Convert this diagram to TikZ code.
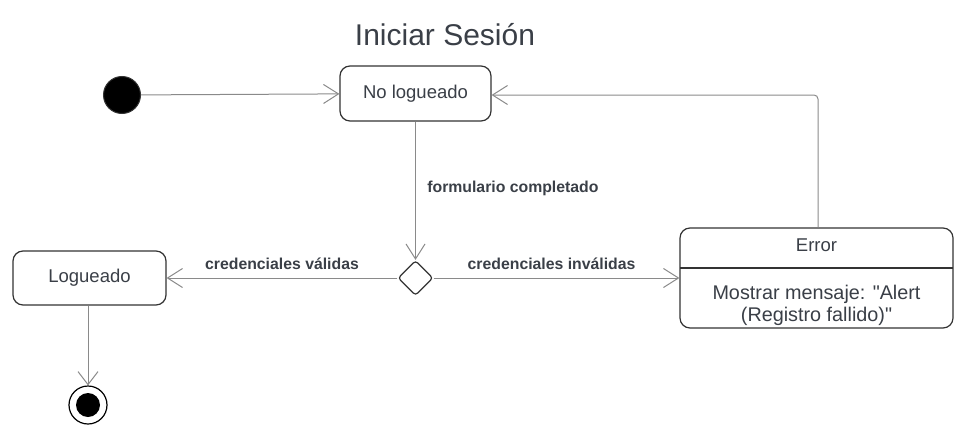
\documentclass[tikz,border=0pt]{standalone}
\usepackage{fontspec}
\setmainfont{Liberation Sans}[Ligatures=TeXOff]
\usetikzlibrary{arrows.meta,shapes.geometric}
\definecolor{txt}{HTML}{3A3F47}
\definecolor{edge}{HTML}{333333}
\definecolor{conn}{HTML}{8A8A8A}
\tikzset{
  state/.style={draw=edge, line width=1.2pt, rounded corners=10pt, fill=white, text=txt, font=\fontsize{18.5}{22}\selectfont, inner sep=0pt},
  conn/.style={draw=conn, line width=1pt, -{Straight Barb[length=15pt,width=19pt,line width=1pt]}},
  lbl/.style={text=txt, font=\bfseries\fontsize{15.8}{18}\selectfont},
}
\begin{document}
\begin{tikzpicture}[x=1pt,y=-1pt]
\useasboundingbox (0,0) rectangle (968,444);
\node[text=txt, font=\fontsize{30}{34}\selectfont] (title) at (445,35) {Iniciar Sesión};
\node[circle, fill=black, draw=edge, line width=1pt, minimum size=37pt, inner sep=0pt] (init) at (122,95) {};
\node[state, minimum width=151pt, minimum height=55pt] (nolog) at (415.5,93.5) {No logueado};
\node[draw=edge, line width=1.2pt, fill=white, diamond, aspect=1, minimum width=35pt, minimum height=35pt, inner sep=0pt, rounded corners=3pt] (dec) at (415.5,278) {};
\node[state, minimum width=153pt, minimum height=54pt] (log) at (89.5,278) {Logueado};
\node[state, minimum width=273pt, minimum height=100pt] (err) at (816.5,278) {};
\coordinate (divL) at (680,268);
\coordinate (divR) at (953,268);
\draw[draw=edge, line width=1.2pt] (divL) -- (divR);
\node[text=txt, font=\fontsize{18.5}{22}\selectfont] (errt) at (816.5,245) {Error};
\node[text=txt, font=\fontsize{19.8}{21.5}\selectfont, align=center] (errb) at (816.5,305.5) {Mostrar mensaje: "Alert\\(Registro fallido)"};
\node[circle, draw=black, line width=1.2pt, minimum size=38pt, inner sep=0pt] (fin) at (88,405) {};
\node[circle, fill=black, minimum size=24pt, inner sep=0pt] (finin) at (88,405) {};

\draw[conn] (init) -- (nolog);
\draw[conn] (nolog) -- node[lbl, anchor=west, pos=0.48, xshift=8pt] {formulario completado} (dec.north);
\draw[conn] (dec.west) -- node[lbl, above, yshift=4.5pt, pos=0.5] {credenciales válidas} (log);
\draw[conn] (dec.east) -- node[lbl, above, yshift=4.5pt, pos=0.48] {credenciales inválidas} (err);
\coordinate (corner) at (818,95);
\draw[conn, rounded corners=4pt] (err.north -| corner) -- (corner) -- (nolog.east |- corner);
\draw[conn, -{Straight Barb[length=13pt,width=20pt,line width=1pt]}] (log.south -| fin) -- (fin.north);
\end{tikzpicture}
\end{document}
